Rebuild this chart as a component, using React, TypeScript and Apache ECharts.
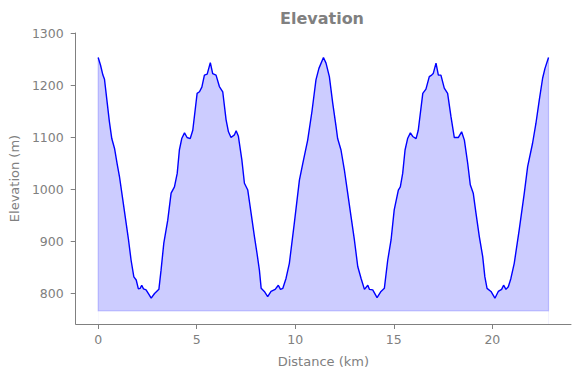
import React, { useEffect, useRef } from "react";
import * as echarts from "echarts";

const distanceKm: number[] = [
  0.0, 0.12, 0.24, 0.32, 0.46, 0.57, 0.69, 0.83, 0.96, 1.08, 1.25, 1.42, 1.54, 1.67, 1.81, 1.93,
  2.04, 2.13, 2.21, 2.3, 2.43, 2.55, 2.69, 2.86, 3.08, 3.19, 3.33, 3.53, 3.7, 3.87, 4.01, 4.12,
  4.24, 4.38, 4.51, 4.67, 4.8, 5.02, 5.14, 5.26, 5.39, 5.53, 5.69, 5.81, 5.98, 6.15, 6.32, 6.49,
  6.61, 6.74, 6.91, 7.0, 7.11, 7.29, 7.42, 7.59, 7.76, 7.93, 8.06, 8.18, 8.27, 8.43, 8.6, 8.77,
  8.98, 9.14, 9.25, 9.37, 9.53, 9.7, 9.95, 10.21, 10.38, 10.63, 10.85, 11.05, 11.2, 11.43, 11.56,
  11.73, 11.9, 12.07, 12.15, 12.32, 12.49, 12.66, 12.83, 13.0, 13.17, 13.34, 13.51, 13.68, 13.76,
  13.93, 14.15, 14.35, 14.52, 14.69, 14.86, 15.02, 15.23, 15.33, 15.45, 15.57, 15.7, 15.84, 15.96,
  16.13, 16.24, 16.47, 16.63, 16.8, 16.92, 17.0, 17.14, 17.26, 17.39, 17.56, 17.73, 17.9, 18.07,
  18.27, 18.44, 18.58, 18.75, 18.88, 19.03, 19.17, 19.34, 19.51, 19.62, 19.73, 19.93, 20.13, 20.3,
  20.47, 20.57, 20.69, 20.81, 20.94, 21.11, 21.36, 21.62, 21.79, 22.04, 22.21, 22.38, 22.55, 22.67,
  22.85,
];

const elevationM: number[] = [
  1253, 1238, 1219, 1211, 1165, 1129, 1097, 1078, 1049, 1024, 979, 934, 902, 863, 831, 825,
  808, 809, 815, 808, 806, 799, 790, 799, 807, 844, 896, 940, 992, 1004, 1030, 1075,
  1097, 1108, 1099, 1097, 1113, 1184, 1187, 1196, 1219, 1221, 1243, 1222, 1219, 1197, 1187, 1133,
  1110, 1099, 1104, 1112, 1102, 1056, 1011, 998, 953, 908, 876, 844, 809, 803, 793, 803,
  807, 815, 807, 809, 828, 857, 934, 1017, 1049, 1094, 1150, 1210, 1232, 1253, 1242,
  1216, 1165, 1120, 1097, 1075, 1037, 992, 947, 902, 851, 828, 807, 815, 807,
  806, 791, 803, 809, 863, 902, 960, 998, 1004, 1030, 1075, 1097, 1108, 1101,
  1097, 1113, 1184, 1192, 1216, 1219, 1222, 1242, 1219, 1219, 1194, 1184, 1139, 1099,
  1099, 1110, 1094, 1049, 1008, 992, 953, 908, 870, 831, 809, 803, 790, 803,
  807, 815, 807, 812, 828, 857, 921, 992, 1043, 1088, 1126, 1171, 1213, 1232,
  1253,
];

const fillBase = 765;
const xTicks = [0, 5, 10, 15, 20];
const yTicks = [800, 900, 1000, 1100, 1200, 1300];

const GRAY = "#808080";
const FONT = "DejaVu Sans";

export default function App() {
  const ref = useRef<HTMLDivElement>(null);

  useEffect(() => {
    document.body.style.margin = "0";
    if (!ref.current) return;
    const chart = echarts.init(ref.current, undefined, { renderer: "svg" });
    const n = distanceKm.length;
    const lastX = distanceKm[n - 1];
    const elevData = distanceKm.map((d, i) => [d, elevationM[i]]);
    const maskData = [
      [0, fillBase],
      [lastX, fillBase],
    ];
    const edgeData = [
      [0, elevationM[0]],
      [0, fillBase],
      [lastX, fillBase],
      [lastX, elevationM[n - 1]],
    ];

    chart.setOption({
      animation: false,
      title: {
        text: "Elevation",
        left: 317,
        top: 5,
        textAlign: "center",
        textStyle: { fontFamily: FONT, fontWeight: "bold", fontSize: 16, color: GRAY },
      },
      grid: { left: 75, right: 9, top: 33, bottom: 54, containLabel: false },
      xAxis: {
        type: "value",
        min: -1.14,
        max: 23.99,
        z: 10,
        name: "Distance (km)",
        nameLocation: "middle",
        nameGap: 31,
        nameTextStyle: { fontFamily: FONT, fontSize: 13, color: GRAY },
        axisLine: { show: true, onZero: false, lineStyle: { color: GRAY, width: 1 } },
        axisTick: { show: true, length: 5, customValues: xTicks, lineStyle: { color: GRAY } },
        axisLabel: {
          customValues: xTicks,
          margin: 9,
          fontFamily: FONT,
          fontSize: 12.5,
          color: GRAY,
          formatter: (v: number) => String(v),
        },
        splitLine: { show: false },
      },
      yAxis: {
        type: "value",
        min: 740.4,
        max: 1300,
        z: 10,
        name: "Elevation (m)",
        nameLocation: "middle",
        nameGap: 53,
        nameTextStyle: { fontFamily: FONT, fontSize: 13, color: GRAY },
        axisLine: { show: true, onZero: false, lineStyle: { color: GRAY, width: 1 } },
        axisTick: { show: true, length: 5, customValues: yTicks, lineStyle: { color: GRAY } },
        axisLabel: {
          customValues: yTicks,
          margin: 12,
          fontFamily: FONT,
          fontSize: 12.5,
          color: GRAY,
          formatter: (v: number) => String(v),
        },
        splitLine: { show: false },
      },
      series: [
        {
          name: "Elevation",
          type: "line",
          data: elevData,
          symbol: "none",
          lineStyle: { color: "#0000ff", width: 1.4 },
          areaStyle: { color: "rgba(0,0,255,0.2)", opacity: 1, origin: "start" },
          z: 4,
        },
        {
          name: "mask",
          type: "line",
          data: maskData,
          symbol: "none",
          lineStyle: { width: 0, opacity: 0 },
          areaStyle: { color: "#ffffff", opacity: 1, origin: "start" },
          silent: true,
          z: 5,
        },
        {
          name: "edge",
          type: "line",
          data: edgeData,
          symbol: "none",
          lineStyle: { color: "rgba(0,0,255,0.2)", width: 1.2 },
          silent: true,
          z: 3,
        },
      ],
    });

    return () => chart.dispose();
  }, []);

  return <div ref={ref} style={{ width: 580, height: 378 }} />;
}
